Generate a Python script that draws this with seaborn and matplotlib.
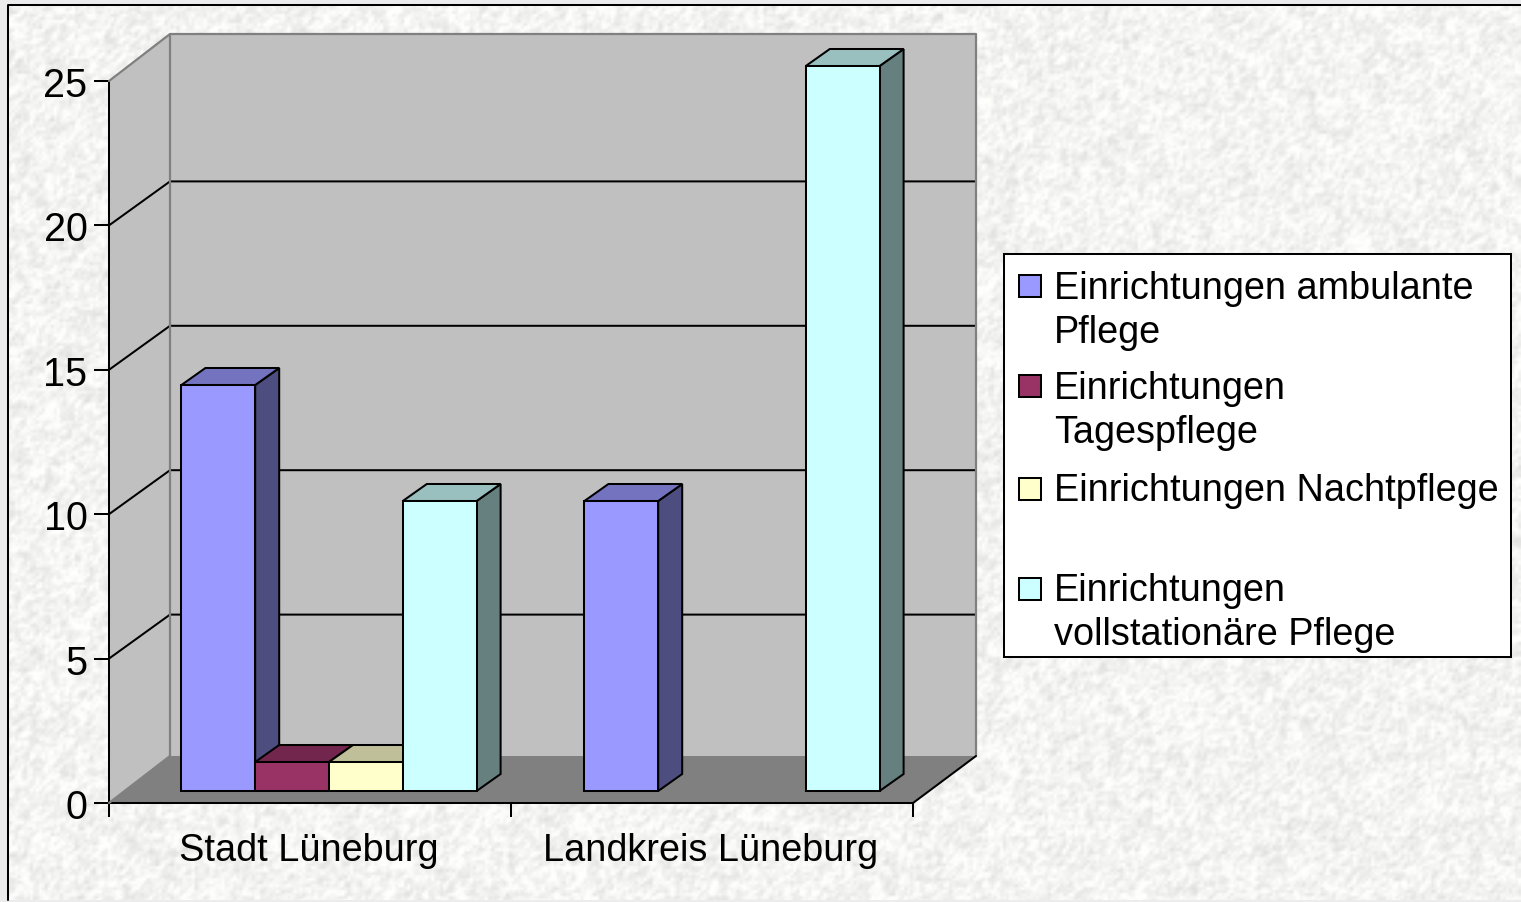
import numpy as np
import pandas as pd
import seaborn as sns
import matplotlib
matplotlib.use("Agg")
import matplotlib.pyplot as plt
from matplotlib.patches import Polygon, Rectangle
from matplotlib.lines import Line2D
from matplotlib.colors import to_rgb

regions = ["Stadt Lüneburg", "Landkreis Lüneburg"]
kinds = ["Einrichtungen ambulante Pflege", "Einrichtungen Tagespflege",
         "Einrichtungen Nachtpflege", "Einrichtungen vollstationäre Pflege"]
stadt_values = [14, 1, 1, 10]
landkreis_values = [10, 0, 0, 25]
colors = ["#9999ff", "#993366", "#ffffcc", "#ccffff"]
y_ticks = [0, 5, 10, 15, 20, 25]
legend_lines = [["Einrichtungen ambulante", "Pflege"],
                ["Einrichtungen", "Tagespflege"],
                ["Einrichtungen Nachtpflege"],
                ["Einrichtungen", "vollstationäre Pflege"]]

W, H = 1521, 903
FONT = 27.25
LW = 1.45
NUDGE = 1  # picture comes out one pixel high otherwise


def px_axes(fig, left, right, top, bottom):
    # axes placed from pixel edges, y counted from the top of the picture
    return fig.add_axes([left / W, 1 - (bottom + NUDGE) / H, (right - left) / W, (bottom - top) / H])


def shade(color, k):
    return tuple(c * k for c in to_rgb(color))


def hash_noise(rows, cols, a, b):
    yy, xx = np.mgrid[0:rows, 0:cols]
    return np.modf(np.abs(np.sin(xx * a + yy * b)) * 43758.5453)[0]


sns.set_theme(style="white")
plt.rcParams["font.family"] = ["Liberation Sans", "DejaVu Sans"]

fig = plt.figure(figsize=(W / 100, H / 100), dpi=100, facecolor="#ececec")

# marbled paper behind everything, made from a small hash so it is the same every run
bg = fig.add_axes([0, 0, 1, 1], zorder=-1)
rows, cols = H // 3 + 1, W // 3 + 1
fine = hash_noise(rows, cols, 12.9898, 78.233)
coarse = np.kron(hash_noise(rows // 5 + 1, cols // 5 + 1, 39.346, 11.135), np.ones((5, 5)))[:rows, :cols]
soft = (fine + np.roll(fine, 1, 0) + np.roll(fine, 1, 1)) / 3
paper = 244 + (soft - 0.5) * 40 + (coarse - 0.5) * 9
paper = np.clip(paper, 205, 255) / 255
bg.imshow(np.dstack([paper, paper, paper * 0.992]), extent=[0, W, H, 0], aspect="auto",
          interpolation="bilinear")
bg.set_xlim(0, W)
bg.set_ylim(H, 0)
bg.axis("off")
bg.add_patch(Rectangle((0, H - 2), W, 2, color="#ececec", lw=0))
bg.add_patch(Rectangle((0, 0), 7, H, color="#ececec", lw=0))
bg.add_patch(Rectangle((0, 0), W, 5, color="#ececec", lw=0))
bg.add_line(Line2D([8, 8, W], [H - 2, 6, 6], color="black", lw=LW))

# front plane of the chart: holds the value axis and the category ticks
ax = px_axes(fig, 109, 913, 81, 803)
ax.set_xlim(-0.5, 1.5)
ax.set_ylim(0, 25)
ax.patch.set_alpha(0)
dx, dy = 61 / 804, 47 / 722
dx_right = 63 / 804
grid_dy = 44 / 722

tr = ax.transAxes
ax.add_patch(Polygon([(dx, dy), (1 + dx_right, dy), (1 + dx_right, 1 + dy), (dx, 1 + dy)], transform=tr,
                     fc="#c0c0c0", ec="none", clip_on=False, zorder=1))
ax.add_patch(Polygon([(0, 0), (dx, dy), (dx, 1 + dy), (0, 1)], transform=tr,
                     fc="#c0c0c0", ec="none", clip_on=False, zorder=1))
ax.add_patch(Polygon([(0, 0), (1, 0), (1 + dx_right, dy), (dx, dy)], transform=tr,
                     fc="#808080", ec="none", clip_on=False, zorder=1))
for v in y_ticks[1:-1]:
    f = v / 25
    ax.add_line(Line2D([0, dx, 1 + dx_right], [f, f + grid_dy, f + grid_dy], transform=tr,
                       color="black", lw=LW, clip_on=False, zorder=2))
ax.add_line(Line2D([0, dx, 1 + dx_right, 1 + dx_right], [1, 1 + dy, 1 + dy, dy], transform=tr,
                   color="#808080", lw=1.6, clip_on=False, zorder=3))
ax.add_line(Line2D([dx, dx, 0], [1 + dy, dy, 0], transform=tr,
                   color="#808080", lw=1.6, clip_on=False, zorder=3))
ax.add_line(Line2D([1, 1 + dx_right], [0, dy], transform=tr, color="black", lw=LW,
                   clip_on=False, zorder=3))

sns.despine(ax=ax, top=True, right=True)
for side in ["left", "bottom"]:
    ax.spines[side].set_color("black")
    ax.spines[side].set_linewidth(LW)
ax.set_yticks(y_ticks)
ax.tick_params(axis="y", length=10.8, width=LW, color="black", pad=4.6, labelsize=28.5,
               left=True, labelcolor="black")
ax.set_xticks([-0.5, 0.5, 1.5])
ax.set_xticklabels([])
ax.tick_params(axis="x", which="major", length=10, width=LW, color="black", bottom=True)
ax.set_xticks([-0.004, 0.997], minor=True)
ax.set_xticklabels(regions, minor=True, fontsize=FONT, color="black")
ax.tick_params(axis="x", which="minor", length=0, pad=21)

# bars sit a little inside the floor, so they get their own shifted axes
bar_ax = px_axes(fig, 127.5, 933.5, 66, 791)
bar_ax.patch.set_alpha(0)
df = pd.DataFrame({
    "region": np.repeat(regions, len(kinds)),
    "kind": kinds * len(regions),
    "count": stadt_values + landkreis_values,
})
sns.barplot(data=df, x="region", y="count", hue="kind", order=regions, hue_order=kinds,
            palette=colors, saturation=1, width=0.7325, gap=0, legend=False,
            edgecolor="black", linewidth=LW, ax=bar_ax)
bar_ax.set_xlim(-0.5, 1.5)
bar_ax.set_ylim(0, 25)
bar_ax.axis("off")

bar_dx, bar_dy = 24 / 403, 17 / 29
for i, bar in enumerate(sorted(bar_ax.patches, key=lambda p: p.get_x())):
    h = bar.get_height()
    if h <= 0:
        bar.set_visible(False)
        continue
    x, w = bar.get_x(), bar.get_width()
    col = bar.get_facecolor()[:3]
    z = 5 + i
    bar_ax.add_patch(Polygon([(x + w, 0), (x + w + bar_dx, bar_dy), (x + w + bar_dx, h + bar_dy), (x + w, h)],
                             fc=shade(col, 0.5), ec="black", lw=LW, zorder=z, clip_on=False))
    bar_ax.add_patch(Polygon([(x, h), (x + w, h), (x + w + bar_dx, h + bar_dy), (x + bar_dx, h + bar_dy)],
                             fc=shade(col, 0.75), ec="black", lw=LW, zorder=z, clip_on=False))
    bar.set_zorder(z + 0.5)
    bar.set_clip_on(False)

# legend box, laid out line by line in picture pixels
fig.add_artist(Rectangle((1004 / W, 1 - (657 + NUDGE) / H), 507 / W, 403 / H, transform=fig.transFigure,
                         fc="white", ec="black", lw=LW))
key_tops = [275, 375, 478, 578]
baselines = [[298, 342], [398, 442], [500], [600, 644]]
for color, top, lines, ys in zip(colors, key_tops, legend_lines, baselines):
    fig.add_artist(Rectangle((1019 / W, 1 - (top + 22 + NUDGE) / H), 22 / W, 22 / H, transform=fig.transFigure,
                             fc=color, ec="black", lw=LW))
    for line, y in zip(lines, ys):
        fig.text(1054 / W, 1 - (y + NUDGE) / H, line, fontsize=FONT, color="black", va="baseline", ha="left")

fig.savefig("out.png", dpi=100, facecolor=fig.get_facecolor())
